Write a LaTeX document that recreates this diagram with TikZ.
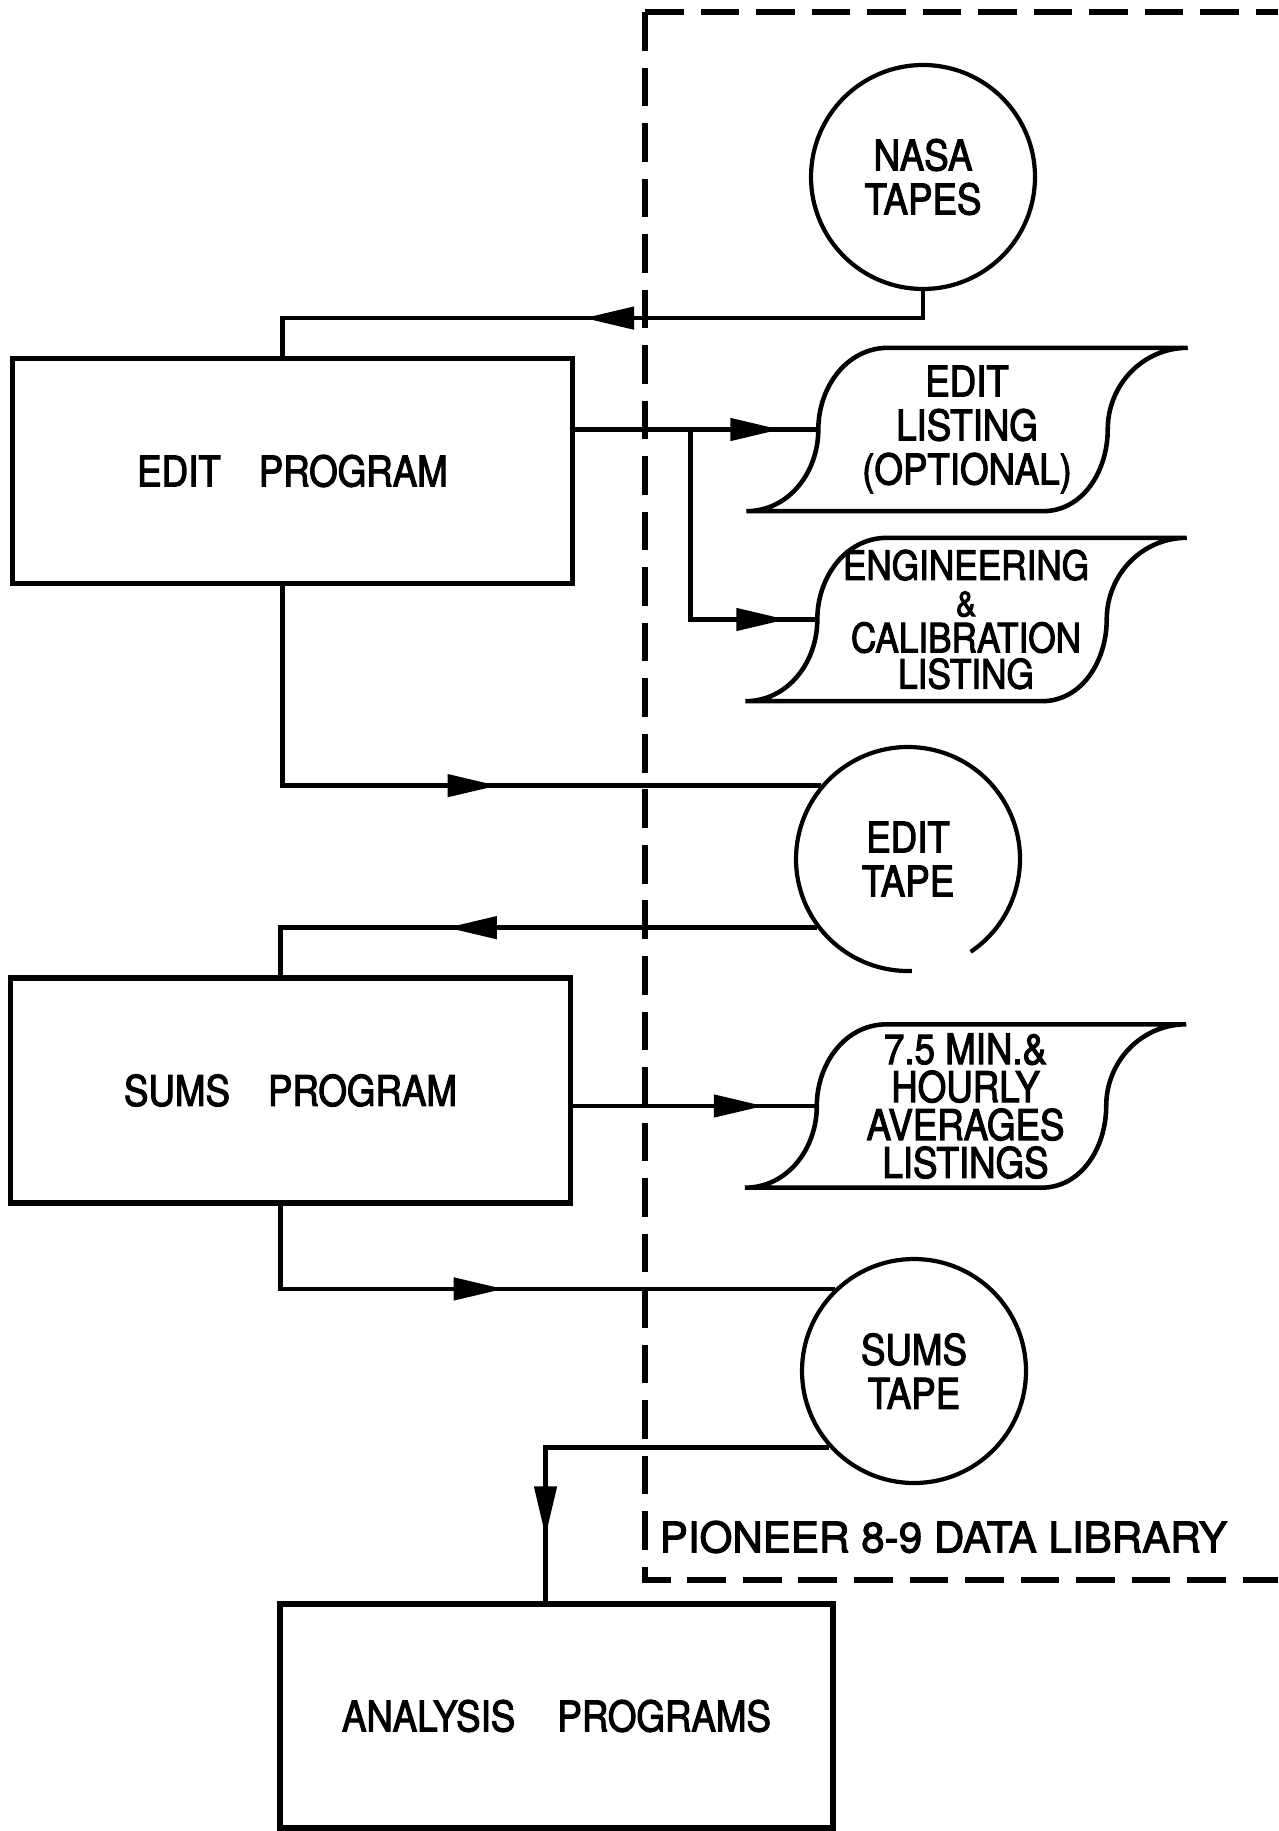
\documentclass[tikz,border=0pt]{standalone}
\usepackage{fontspec}
\setmainfont{TeX Gyre Heros}[FakeStretch=0.87, FakeBold=2.5]
\newfontfamily\plainsans{TeX Gyre Heros}[FakeBold=2.5]
\usetikzlibrary{arrows.meta, decorations.markings}

\begin{document}
\begin{tikzpicture}[
    prog/.style={draw, line width=1.5pt, minimum width=5.6cm, minimum height=2.25cm, font=\fontsize{12}{14}\selectfont},
    tape/.style={circle, minimum size=2.24cm, inner sep=0pt, align=center, line width=1.2pt, font=\fontsize{12}{12.5}\selectfont},
    listing/.style={minimum width=4.4cm, minimum height=1.62cm, inner sep=0pt, align=center, font=\fontsize{12}{12.5}\selectfont},
    line/.style={line width=1.3pt},
    frame/.style={line width=1.6pt, dash pattern=on 11pt off 4.8pt},
    arrat/.style={postaction={decorate}, decoration={markings, mark=at position #1 with {\arrow{Triangle[length=5mm, width=2.2mm]}}}}
]
    \useasboundingbox (0,0) rectangle (12.78,-18.31);

    % Data library boundary (open to the right)
    \draw[frame] (6.45,-0.12) -- (12.78,-0.12);
    \draw[frame] (6.45,-0.12) -- (6.45,-15.80) -- (12.78,-15.80);
    \node[anchor=west, inner sep=0pt, font=\plainsans\fontsize{12}{14}\selectfont] (lib) at (6.59,-15.37) {PIONEER 8-9 DATA LIBRARY};

    % Programs
    \node[prog] (edit) at (2.925,-4.71) {EDIT\hspace{0.9em}PROGRAM};
    \node[prog] (sums) at (2.905,-10.905) {SUMS\hspace{0.9em}PROGRAM};
    \node[prog, minimum width=5.53cm, minimum height=2.24cm] (analysis) at (5.565,-17.16) {ANALYSIS\hspace{1em}PROGRAMS};

    % Tapes
    \node[tape, draw] (nasa) at (9.23,-1.77) {NASA\\TAPES};
    \node[tape] (edittape) at (9.08,-8.59) {EDIT\\TAPE};
    \draw[line width=1.2pt] ([shift={(-56:1.12)}]edittape.center) arc[start angle=-56, end angle=272, radius=1.12];
    \node[tape, draw] (sumstape) at (9.14,-13.71) {SUMS\\TAPE};

    % Listings
    \node[listing] (elist) at (9.67,-4.295) {EDIT\\LISTING\\(OPTIONAL)};
    \node[listing, font=\fontsize{11.5}{10.3}\selectfont] (englist) at (9.66,-6.195) {ENGINEERING\\{\fontsize{10}{10}\selectfont\&}\\CALIBRATION\\LISTING};
    \node[listing, font=\fontsize{12}{10.8}\selectfont] (avglist) at (9.655,-11.06) {7.5 MIN.\&\\HOURLY\\AVERAGES\\LISTINGS};
    \foreach \n in {elist, englist, avglist} {
        \draw[line] (\n.south west) to[out=0, in=-90] ([xshift=7.2mm]\n.west) to[out=90, in=180] ([xshift=14.2mm]\n.north west)
            -- (\n.north east) to[out=180, in=90] ([xshift=-8mm]\n.east) to[out=-90, in=0] ([xshift=-14.5mm]\n.south east) -- cycle;
        \coordinate (\n-in) at ([xshift=7.2mm]\n.west);
    }

    % Connectors
    \coordinate (split) at ([xshift=-12.8mm]elist-in);
    \draw[line, arrat=3.66cm] (nasa.south) -- ++(0,-0.27) -| ([xshift=-1mm]edit.north);
    \draw[line, arrat=-0.38cm] (edit.east |- elist-in) -- (elist-in);
    \draw[line, arrat=-0.31cm] (split) |- (englist-in);
    \draw[line, arrat=-3.23cm] ([xshift=-1mm]edit.south) |- (edittape.140);
    \draw[line, arrat=3.70cm] (edittape.217) -| ([xshift=-1mm]sums.north);
    \draw[line, arrat=-0.53cm] (sums.east |- avglist-in) -- (avglist-in);
    \draw[line, arrat=-3.31cm] ([xshift=-1mm]sums.south) |- (sumstape.134);
    \draw[line, arrat=-0.65cm] (sumstape.222) -| ([xshift=-1.1mm]analysis.north);
\end{tikzpicture}
\end{document}
